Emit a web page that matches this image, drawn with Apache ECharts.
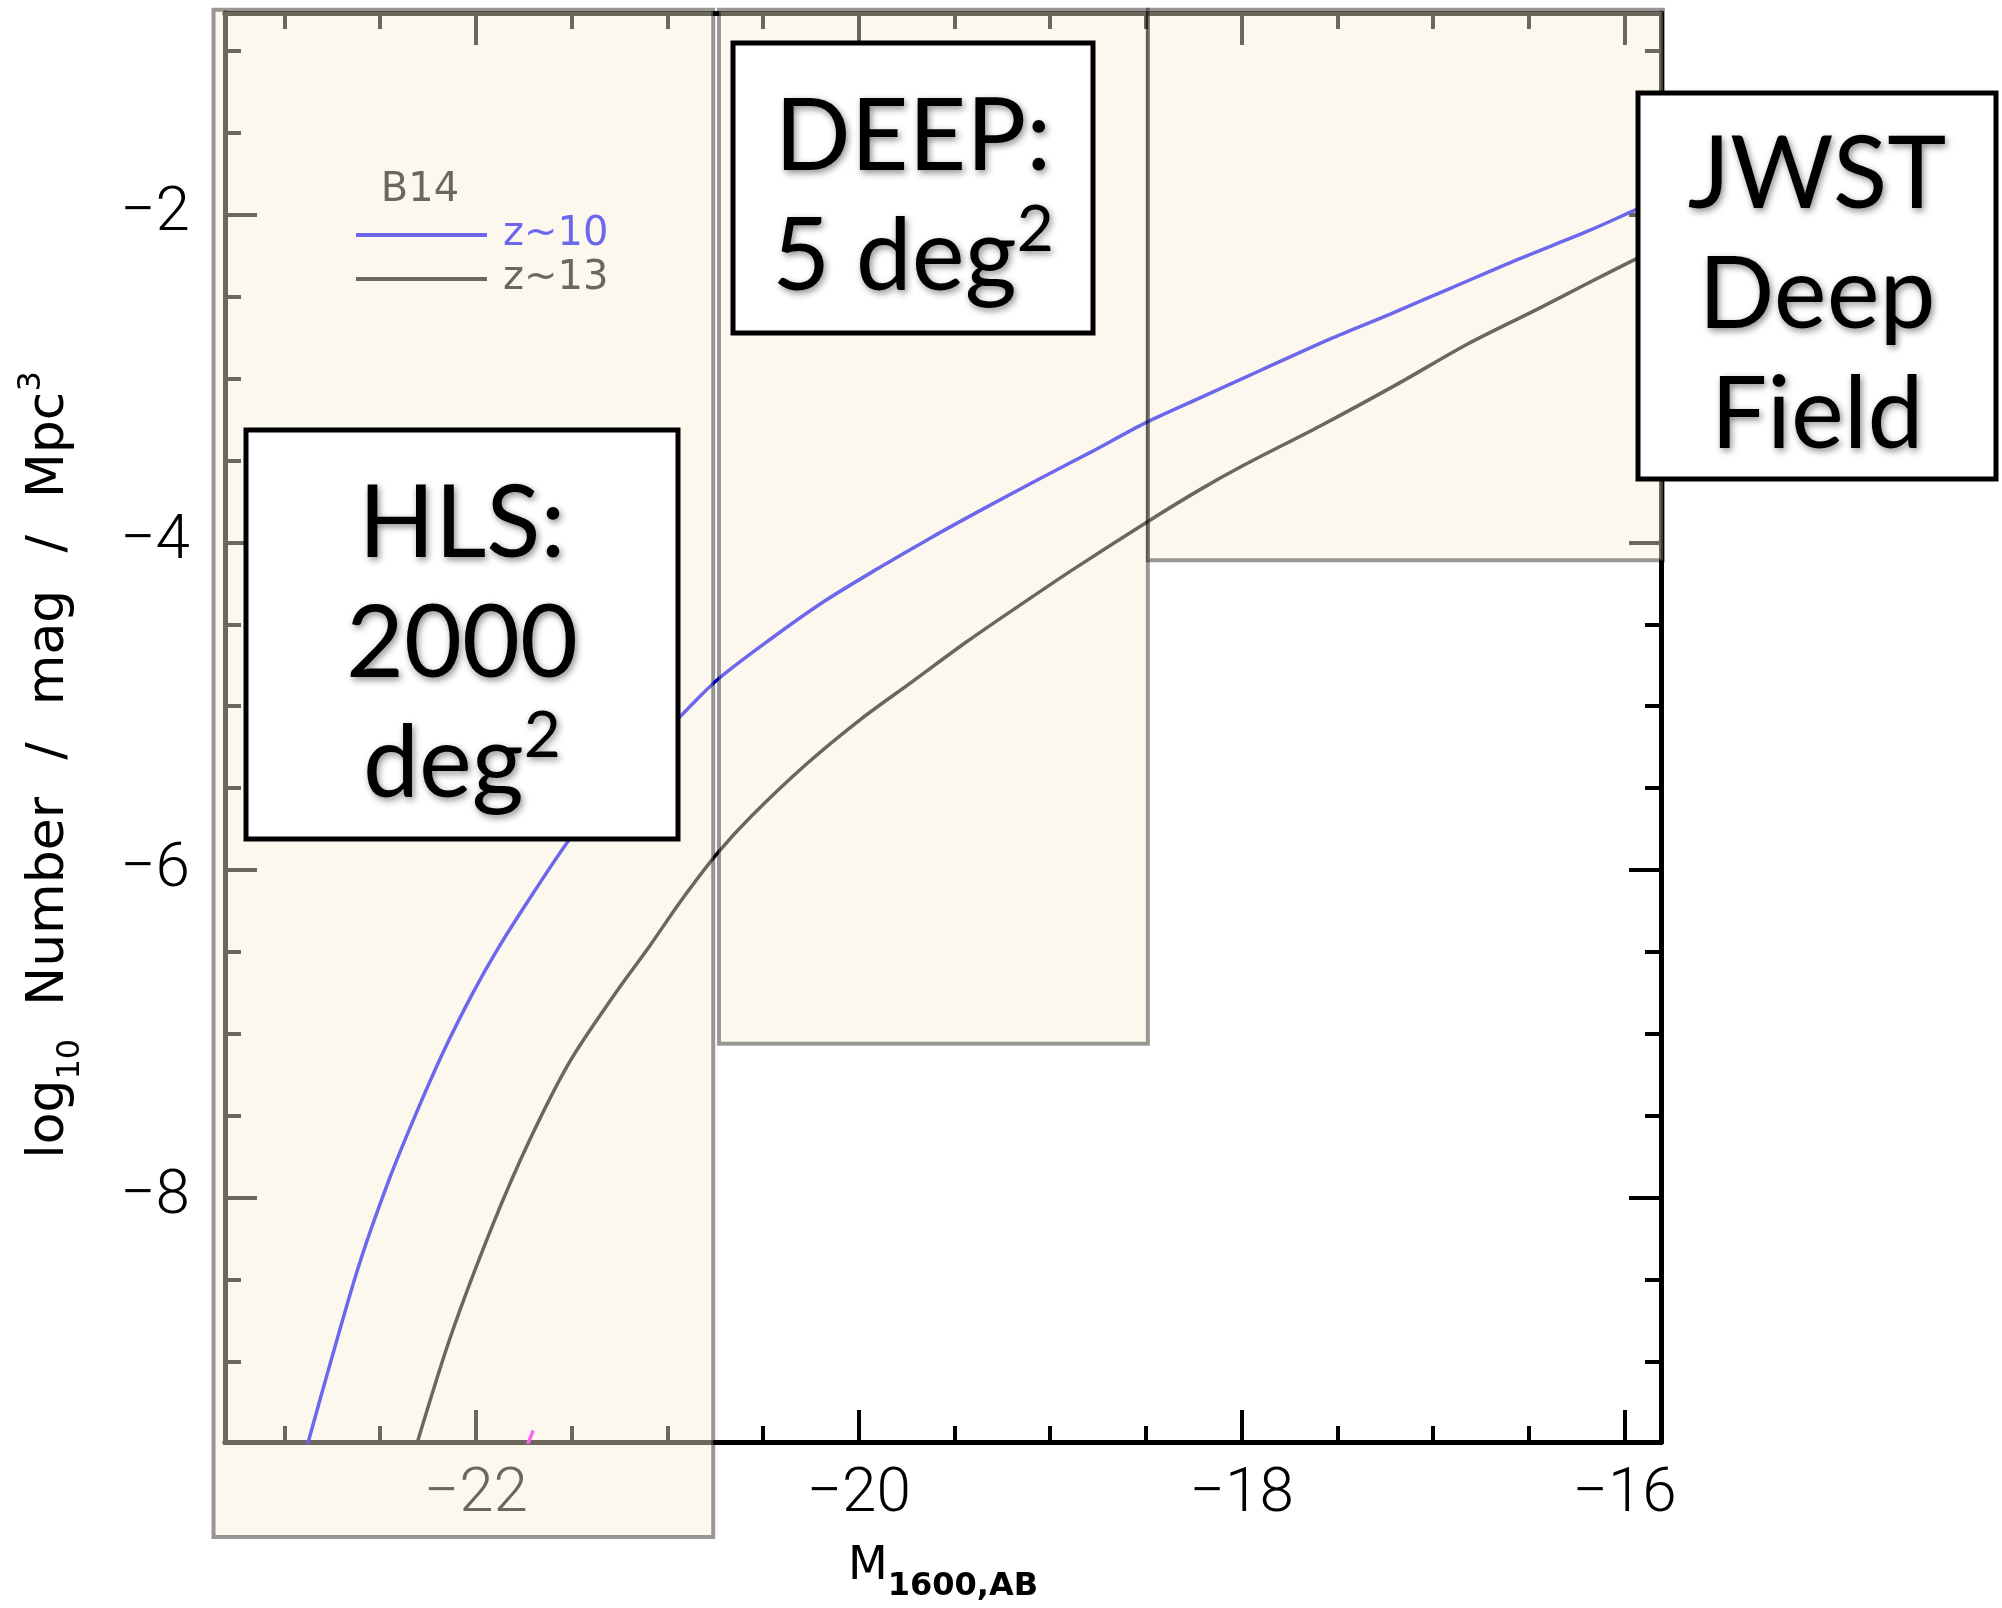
<!DOCTYPE html>
<html>
<head>
<meta charset="utf-8">
<script src="https://cdn.jsdelivr.net/npm/echarts@6/dist/echarts.min.js"></script>
<style>
  html, body { margin: 0; padding: 0; background: #fff; }
  #chart { width: 2002px; height: 1608px; }
</style>
</head>
<body>
<div id="chart"></div>
<script>
// B14 UV luminosity functions, log10 number density per mag per Mpc^3
const z10Mag = [-22.88, -22.77, -22.61, -22.45, -22.31, -22.17, -22.02, -21.89, -21.70, -21.49,
                -21.20, -20.93, -20.74, -20.46, -20.18, -19.90, -19.62, -19.34, -19.06, -18.78,
                -18.50, -18.22, -17.90, -17.54, -17.23, -16.91, -16.55, -16.19, -15.94, -15.80];
const z10LogPhi = [-9.51, -9.05, -8.41, -7.88, -7.48, -7.11, -6.76, -6.49, -6.14, -5.78,
                   -5.37, -5.06, -4.84, -4.59, -4.36, -4.16, -3.97, -3.79, -3.615, -3.445,
                   -3.27, -3.12, -2.95, -2.76, -2.61, -2.45, -2.27, -2.10, -1.97, -1.90];

const z13Mag = [-22.31, -22.13, -21.91, -21.72, -21.51, -21.27, -21.09, -20.93, -20.74, -20.56,
                -20.27, -19.99, -19.72, -19.44, -19.16, -18.88, -18.50, -18.22, -17.99, -17.59,
                -17.18, -16.82, -16.46, -16.21, -15.94, -15.80];
const z13LogPhi = [-9.51, -8.84, -8.16, -7.65, -7.17, -6.75, -6.46, -6.19, -5.90, -5.67,
                   -5.35, -5.08, -4.85, -4.61, -4.385, -4.165, -3.88, -3.68, -3.53, -3.29,
                   -3.03, -2.79, -2.58, -2.43, -2.27, -2.19];

const z15Mag = [-21.735, -21.70];
const z15LogPhi = [-9.52, -9.42];

// Survey footprints: magnitude span and number-density floor
const surveyNames = ['HLS', 'DEEP', 'JWST'];
const surveyMagBright = [-23.37, -20.73, -18.49];
const surveyMagFaint = [-20.76, -18.49, -15.80];
const surveyLogPhiFloor = [-10.07, -7.06, -4.11];
const surveyLogPhiCeil = -0.75;

// Axis ranges and ticks
const X_MIN = -23.31, X_MAX = -15.81;
const Y_MIN = -9.49, Y_MAX = -0.77;
const xMajorTicks = [-22, -20, -18, -16];
const xMinorTicks = [-23, -22.5, -21.5, -21, -20.5, -19.5, -19, -18.5, -17.5, -17, -16.5];
const yMajorTicks = [-8, -6, -4, -2];
const yMinorTicks = [-9, -8.5, -7.5, -7, -6.5, -5.5, -5, -4.5, -3.5, -3, -2.5, -1.5, -1];

const minus = v => (v < 0 ? '\u2212' : '') + Math.abs(v);
const tickFont = { fontFamily: 'Roboto', fontWeight: 300, fontSize: 62, color: '#000' };

function axisBase(kind, position, ticks, len) {
  return {
    type: 'value',
    position: position,
    min: kind === 'x' ? X_MIN : Y_MIN,
    max: kind === 'x' ? X_MAX : Y_MAX,
    axisLine: { show: true, onZero: false, lineStyle: { color: '#000', width: 5 } },
    axisTick: { show: true, inside: true, length: len, customValues: ticks,
                lineStyle: { color: '#000', width: 4 } },
    axisLabel: { show: false },
    minorTick: { show: false },
    splitLine: { show: false }
  };
}

const xBottom = axisBase('x', 'bottom', xMajorTicks, 32);
xBottom.axisLabel = Object.assign({ show: true, customValues: xMajorTicks, margin: 22,
                                     formatter: minus }, tickFont);
xBottom.name = '{m|M}{s|1600,AB}';
xBottom.nameLocation = 'middle';
xBottom.nameGap = 115;
xBottom.nameTextStyle = {
  rich: {
    m: { fontFamily: 'DejaVu Sans', fontSize: 46, lineHeight: 46, padding: [0, 0, 13, 0],
         verticalAlign: 'bottom', color: '#000' },
    s: { fontFamily: 'DejaVu Sans', fontWeight: 'bold', fontSize: 32, lineHeight: 32,
         verticalAlign: 'bottom', color: '#000' }
  }
};

const yLeft = axisBase('y', 'left', yMajorTicks, 32);
yLeft.axisLabel = Object.assign({ show: true, customValues: yMajorTicks, margin: 35,
                                   formatter: minus }, tickFont);
yLeft.name = '{a|log}{b|10}{a|  Number  }{sl|/}{a|  mag  }{sl|/}{a|  Mpc}{c|3}';
yLeft.nameLocation = 'middle';
yLeft.nameRotate = 90;
yLeft.nameGap = 138;
yLeft.nameTextStyle = {
  rich: {
    a: { fontFamily: 'DejaVu Sans', fontSize: 52, lineHeight: 52, padding: [0, 0, 12, 0],
         verticalAlign: 'bottom', color: '#000' },
    sl: { fontFamily: 'DejaVu Sans', fontSize: 52, lineHeight: 52, padding: [0, 4, 12, 4],
          verticalAlign: 'bottom', color: '#000' },
    b: { fontFamily: 'DejaVu Sans', fontSize: 32, lineHeight: 32,
         verticalAlign: 'bottom', color: '#000' },
    c: { fontFamily: 'DejaVu Sans', fontSize: 32, lineHeight: 32, padding: [0, 75, 39, 0],
         verticalAlign: 'bottom', color: '#000' }
  }
};

// Annotation boxes naming each survey
const shadow = {
  textShadowColor: 'rgba(0,0,0,0.45)', textShadowBlur: 7,
  textShadowOffsetX: 2, textShadowOffsetY: 3
};
const boxRich = {
  t: Object.assign({ fontFamily: 'Lato', fontSize: 100, lineHeight: 120, fill: '#000',
                     verticalAlign: 'bottom' }, shadow),
  s: Object.assign({ fontFamily: 'Lato', fontSize: 64, lineHeight: 64, fill: '#000',
                     padding: [0, 0, 46, 0], verticalAlign: 'bottom' }, shadow)
};
function labelBox(x, y, w, h, text) {
  return [
    { type: 'rect', z: 100, shape: { x: x, y: y, width: w, height: h },
      style: { fill: '#fff', stroke: '#000', lineWidth: 5 } },
    { type: 'text', z: 101, x: x + w / 2, y: y + h / 2,
      style: Object.assign({ text: text, rich: boxRich, fontFamily: 'Lato', fontSize: 100,
                             lineHeight: 120, fill: '#000',
                             align: 'center', verticalAlign: 'middle' }, shadow) }
  ];
}

const chart = echarts.init(document.getElementById('chart'), null, { renderer: 'canvas' });
chart.setOption({
  animation: false,
  backgroundColor: '#fff',
  grid: { left: 225, top: 13, width: 1436, height: 1432 },
  xAxis: [
    xBottom,
    axisBase('x', 'bottom', xMinorTicks, 16),
    axisBase('x', 'top', xMajorTicks, 32),
    axisBase('x', 'top', xMinorTicks, 16)
  ],
  yAxis: [
    yLeft,
    axisBase('y', 'left', yMinorTicks, 16),
    axisBase('y', 'right', yMajorTicks, 32),
    axisBase('y', 'right', yMinorTicks, 16)
  ],
  legend: {
    orient: 'vertical', left: 356, top: 211, padding: 0,
    itemWidth: 131, itemHeight: 4, itemGap: -4, icon: 'rect', selectedMode: false,
    data: [
      { name: 'z~10', textStyle: { color: '#0000ff' } },
      { name: 'z~13', textStyle: { color: '#000' } }
    ],
    textStyle: { fontFamily: 'DejaVu Sans', fontSize: 40, lineHeight: 40, padding: [8, 0, 0, 11] }
  },
  graphic: [
    { type: 'text', z: 3, x: 420, y: 191,
      style: { text: 'B14', fontFamily: 'DejaVu Sans', fontSize: 40, fill: '#000',
               align: 'center', verticalAlign: 'middle' } }
  ].concat(
    labelBox(246, 430, 432, 409, '{t|HLS:}\n{t|2000}\n{t|deg}{s|2}'),
    labelBox(733, 43, 360, 290, '{t|DEEP:}\n{t|5 deg}{s|2}'),
    labelBox(1638, 93, 358, 386, '{t|JWST}\n{t|Deep}\n{t|Field}')
  ),
  series: [
    {
      name: 'z~10', type: 'line', z: 2, symbol: 'none', smooth: 0.3,
      data: z10Mag.map((m, i) => [m, z10LogPhi[i]]),
      lineStyle: { color: '#0000ff', width: 3.5 }, itemStyle: { color: '#0000ff' }
    },
    {
      name: 'z~13', type: 'line', z: 2, symbol: 'none', smooth: 0.3,
      data: z13Mag.map((m, i) => [m, z13LogPhi[i]]),
      lineStyle: { color: '#000', width: 3.5 }, itemStyle: { color: '#000' }
    },
    {
      name: 'z~15', type: 'line', z: 2, symbol: 'none',
      data: z15Mag.map((m, i) => [m, z15LogPhi[i]]),
      lineStyle: { color: '#ff00ff', width: 3.5 }, itemStyle: { color: '#ff00ff' }
    },
    {
      name: 'surveys', type: 'custom', z: 5, clip: false, silent: true,
      data: surveyNames.map((n, i) => [surveyMagBright[i], surveyMagFaint[i],
                                       surveyLogPhiFloor[i], surveyLogPhiCeil]),
      encode: { x: [0, 1], y: [2, 3] },
      renderItem: function (params, api) {
        const p0 = api.coord([api.value(0), api.value(3)]);
        const p1 = api.coord([api.value(1), api.value(2)]);
        return {
          type: 'rect',
          shape: { x: p0[0], y: p0[1], width: p1[0] - p0[0], height: p1[1] - p0[1] },
          style: { fill: 'rgba(250,239,213,0.43)', stroke: 'rgba(0,0,0,0.4)', lineWidth: 4 }
        };
      }
    }
  ]
});
</script>
</body>
</html>
